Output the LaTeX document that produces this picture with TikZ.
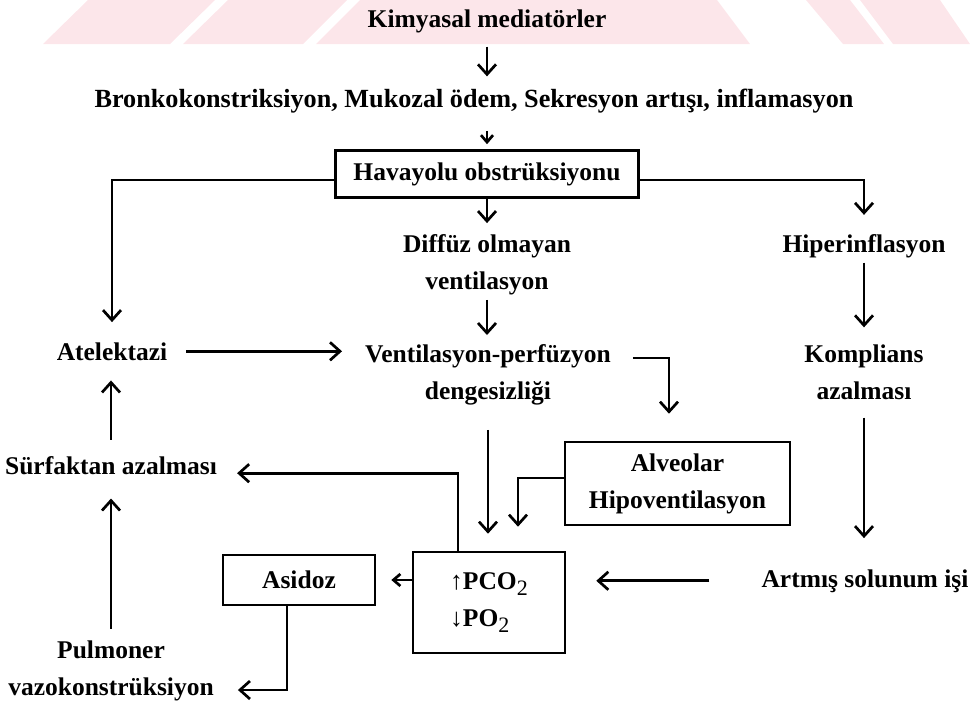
\documentclass[tikz,border=0pt]{standalone}
\usepackage{fontspec}
\setmainfont{Liberation Serif}
\usetikzlibrary{arrows.meta}
\definecolor{wm}{HTML}{FCE6EA}
\newcommand{\subtwo}{\raisebox{-6pt}{\fontsize{22}{22}\selectfont\mdseries 2}}
\begin{document}
\begin{tikzpicture}[x=1pt,y=-1pt,
  txt/.style={font=\bfseries\fontsize{25.5}{37}\selectfont, inner sep=0pt, align=center},
  box/.style={draw, line width=2.6pt},
  arr/.style={line width=2.7pt, -{Straight Barb[length=10pt,width=18pt,line width=2.7pt]}},
  arrs/.style={line width=2.7pt, -{Straight Barb[length=7pt,width=12pt,line width=2.7pt]}}]
\useasboundingbox (0,0) rectangle (977,710);
% watermark
\fill[wm] (43,44) -- (170,44) -- (215,0) -- (88,0) -- cycle;
\fill[wm] (183,44) -- (303,44) -- (347,0) -- (228,0) -- cycle;
\fill[wm] (316,44) -- (750,44) -- (717,0) -- (360,0) -- cycle;
\fill[wm] (843,44) -- (884,44) -- (850,0) -- (806,0) -- cycle;
\fill[wm] (893,44) -- (970,44) -- (940,0) -- (860,0) -- cycle;
% nodes
\node[txt, anchor=base] (kim) at (487,27) {Kimyasal mediatörler};
\node[txt, anchor=base, font=\bfseries\fontsize{26.2}{37}\selectfont] (bro) at (474,107) {Bronkokonstriksiyon, Mukozal ödem, Sekresyon artışı, inflamasyon};
\node[txt, box, minimum width=303pt, minimum height=47pt] (hav) at (487,174) {Havayolu obstrüksiyonu};
\node[txt] (dif) at (487,264.5) {Diffüz olmayan\\ventilasyon};
\node[txt, anchor=base] (hip) at (864,252) {Hiperinflasyon};
\node[txt, anchor=base] (ate) at (112,360) {Atelektazi};
\node[txt] (vp) at (488,374.5) {Ventilasyon-perfüzyon\\dengesizliği};
\node[txt] (kom) at (864,372) {Komplians\\azalması};
\node[txt, anchor=base] (sur) at (111,474) {Sürfaktan azalması};
\node[txt, box, minimum width=225pt, minimum height=83pt] (alv) at (677.5,483.5) {Alveolar\\Hipoventilasyon};
\node[txt, box, minimum width=152pt, minimum height=101pt, align=left] (pco) at (489,602.5) {↑PCO\subtwo\\↓PO\subtwo};
\node[txt, box, minimum width=152pt, minimum height=50pt] (asi) at (299,580) {Asidoz};
\node[txt, anchor=base] (art) at (865,587) {Artmış solunum işi};
\node[txt] (pul) at (111,671) {Pulmoner\\vazokonstrüksiyon};
% connectors
\draw[arr, shorten <=14pt, shorten >=12pt] (kim.south) -- (kim.south |- bro.north);
\draw[arrs, shorten <=18pt, shorten >=5pt] (bro.south -| hav.north) -- (hav.north);
\draw[arr, shorten >=11pt] (hav.south) -- (hav.south |- dif.north);
\draw[arr, shorten >=20pt] ([yshift=-6pt]hav.west) -| (ate.north);
\draw[arr, shorten >=19pt] ([yshift=-6pt]hav.east) -| (hip.north);
\draw[arr, shorten <=5pt, shorten >=9pt] (dif.south) -- (dif.south |- vp.north);
\draw[arr, shorten <=19pt, shorten >=23pt] (ate.east) -- (ate.east -| vp.west);
\draw[arr, shorten <=22pt, shorten >=27pt] ([yshift=16.5pt]vp.east) -| ([xshift=-8.5pt]alv.north);
\draw[arr, shorten <=25pt, shorten >=17pt] (vp.south) -- (vp.south |- pco.north);
\draw[arr, shorten >=24pt] ([yshift=5.5pt]alv.west) -| ([xshift=29pt]pco.north);
\draw[arr, shorten <=5pt, shorten >=17pt] (hip.south) -- (hip.south |- kom.north);
\draw[arr, shorten <=18pt, shorten >=31pt] (kom.south) -- (kom.south |- art.north);
\draw[arr, shorten <=52pt, shorten >=30pt] (art.west) -- (art.west -| pco.east);
\draw[arr, shorten >=20pt] ([xshift=-31pt]pco.north) |- ([yshift=-8pt]sur.east);
\draw[arrs, shorten >=15pt] (pco.west |- asi.east) -- (asi.east);
\draw[arr, shorten <=16pt, shorten >=20pt] (sur.north) -- (sur.north |- ate.south);
\draw[arr, shorten <=12pt, shorten >=24pt] (pul.north) -- (pul.north |- sur.south);
\draw[arr, shorten >=24pt] ([xshift=-12pt]asi.south) |- ([yshift=-19pt]pul.east);
\end{tikzpicture}
\end{document}
